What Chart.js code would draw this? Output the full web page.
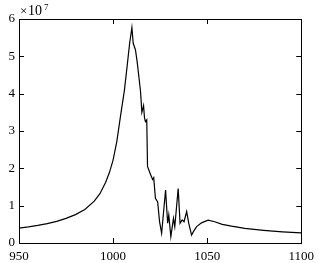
<!DOCTYPE html>
<html>
<head>
<meta charset="utf-8">
<script src="https://cdn.jsdelivr.net/npm/chart.js@4/dist/chart.umd.min.js"></script>
<style>
  html, body { margin: 0; padding: 0; background: #fff; }
  #wrap { width: 320px; height: 263px; }
</style>
</head>
<body>
<div id="wrap"><canvas id="chart" width="320" height="263"></canvas></div>
<script>
// frequency axis values
const freq = [950, 955, 960, 965, 970, 975, 980, 985, 990, 993, 996, 998, 1000, 1002, 1004, 1006,
  1007.5, 1008.8, 1010, 1010.7, 1011.9, 1012.8, 1013.7, 1014.6, 1015.3, 1016.2, 1016.7, 1017.2,
  1017.9, 1018.3, 1019.8, 1021, 1021.6, 1022.5, 1023.7, 1024.7, 1025.8, 1027.9, 1029, 1029.6,
  1030.7, 1032.1, 1032.8, 1034.6, 1035.6, 1036.7, 1037.7, 1039.1, 1040.2, 1041.7, 1043, 1044.4,
  1047, 1050.5, 1054, 1058, 1063, 1070, 1080, 1090, 1100];
// amplitude, in units of 1e7
const amp = [0.40, 0.43, 0.47, 0.52, 0.58, 0.66, 0.76, 0.90, 1.12, 1.32, 1.62, 1.88, 2.22, 2.72, 3.42, 4.08,
  4.75, 5.35, 5.77, 5.35, 5.17, 4.85, 4.46, 4.05, 3.50, 3.68, 3.35, 3.25,
  3.30, 2.05, 1.85, 1.70, 1.75, 1.20, 1.10, 0.57, 0.26, 1.42, 0.53, 0.75,
  0.17, 0.66, 0.44, 1.46, 0.53, 0.62, 0.57, 0.84, 0.53, 0.21, 0.33, 0.44,
  0.54, 0.61, 0.57, 0.50, 0.45, 0.39, 0.34, 0.30, 0.27];

const xTicks = [950, 1000, 1050, 1100];
const yTicks = [0, 1, 2, 3, 4, 5, 6];
const expLabel = ['\u00d7', '10', '7'];

const points = freq.map((f, i) => ({ x: f, y: amp[i] }));

// box around plot area + inward tick marks, matlab style
const frame = {
  id: 'frame',
  afterDraw(chart) {
    const { ctx, chartArea: a } = chart;
    const xs = chart.scales.x, ys = chart.scales.y;
    const tl = 5;
    ctx.save();
    ctx.strokeStyle = '#000';
    ctx.lineWidth = 1;
    ctx.strokeRect(Math.round(a.left) + 0.5, Math.round(a.top) + 0.5,
      Math.round(a.right - a.left), Math.round(a.bottom - a.top));
    ctx.beginPath();
    xTicks.forEach(v => {
      const px = Math.round(xs.getPixelForValue(v)) + 0.5;
      ctx.moveTo(px, a.bottom); ctx.lineTo(px, a.bottom - tl);
      ctx.moveTo(px, a.top); ctx.lineTo(px, a.top + tl);
    });
    yTicks.forEach(v => {
      const py = Math.round(ys.getPixelForValue(v)) + 0.5;
      ctx.moveTo(a.left, py); ctx.lineTo(a.left + tl, py);
      ctx.moveTo(a.right, py); ctx.lineTo(a.right - tl, py);
    });
    ctx.stroke();
    // exponent label
    ctx.fillStyle = '#000';
    ctx.textBaseline = 'alphabetic';
    ctx.font = '13px "Liberation Serif"';
    ctx.fillText(expLabel[0], a.left + 1, a.top - 4);
    ctx.font = '14px "Liberation Serif"';
    ctx.fillText(expLabel[1], a.left + 9, a.top - 4);
    const w = ctx.measureText(expLabel[1]).width;
    ctx.font = '9px "Liberation Serif"';
    ctx.fillText(expLabel[2], a.left + 11 + w, a.top - 9);
    ctx.restore();
  }
};

new Chart(document.getElementById('chart'), {
  type: 'line',
  data: {
    datasets: [{
      data: points,
      borderColor: '#000',
      borderWidth: 1.2,
      pointRadius: 0,
      tension: 0,
      fill: false
    }]
  },
  options: {
    responsive: false,
    animation: false,
    layout: { padding: { top: 19, right: 15, left: 0, bottom: 0 } },
    plugins: { legend: { display: false }, tooltip: { enabled: false } },
    scales: {
      x: {
        type: 'linear',
        min: 950,
        max: 1100,
        afterBuildTicks: s => { s.ticks = xTicks.map(v => ({ value: v })); },
        afterFit: s => { s.height = 20; },
        grid: { display: false, drawTicks: false },
        border: { display: false },
        ticks: {
          color: '#000', padding: 6, maxRotation: 0,
          callback: v => String(v),
          font: { family: 'Liberation Serif', size: 13 }
        }
      },
      y: {
        min: 0,
        max: 6,
        afterBuildTicks: s => { s.ticks = yTicks.map(v => ({ value: v })); },
        afterFit: s => { s.width = 19; },
        grid: { display: false, drawTicks: false },
        border: { display: false },
        ticks: {
          color: '#000', padding: 4,
          callback: v => String(v),
          font: { family: 'Liberation Serif', size: 13 }
        }
      }
    }
  },
  plugins: [frame]
});
</script>
</body>
</html>
